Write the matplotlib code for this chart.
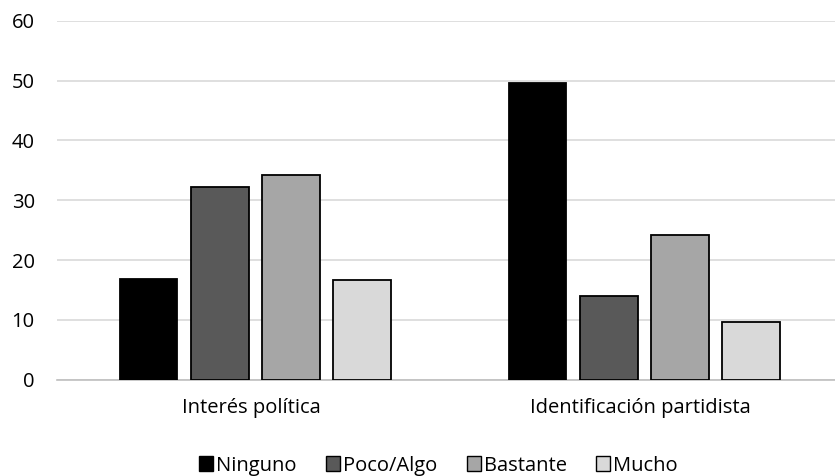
import numpy as np
import matplotlib.pyplot as plt
from matplotlib.patches import Patch

plt.rcParams['font.family'] = ['Open Sans', 'DejaVu Sans']

# data
groups = ['Interés política', 'Identificación partidista']
levels = ['Ninguno', 'Poco/Algo', 'Bastante', 'Mucho']
ninguno = [16.8, 49.6]
poco_algo = [32.2, 13.9]
bastante = [34.3, 24.2]
mucho = [16.6, 9.6]
colors = ['#000000', '#595959', '#A6A6A6', '#D9D9D9']

fig = plt.figure(figsize=(8.35, 4.76), dpi=100)
ax = fig.add_axes([57 / 835, 0.2027, 1 - 57 / 835, 0.7532])

x = np.arange(len(groups))
width = 0.148
step = 0.183
series = [ninguno, poco_algo, bastante, mucho]
for i, (vals, col) in enumerate(zip(series, colors)):
    ax.bar(x + (i - 1.5) * step + 0.01, vals, width, color=col,
           edgecolor='#000000', linewidth=1.3, label=levels[i], zorder=3)

ax.set_xlim(-0.5, 1.5)
ax.set_ylim(0, 60)
ax.set_yticks(range(0, 61, 10))
ax.yaxis.grid(True, color='#D9D9D9', linewidth=1.2, zorder=0)
ax.set_xticks(x)
ax.set_xticklabels(groups)
ax.tick_params(axis='both', length=0, labelsize=14.5, colors='#000000')
ax.tick_params(axis='x', pad=13)
ax.tick_params(axis='y', pad=16)
for side in ['top', 'right', 'left']:
    ax.spines[side].set_visible(False)
ax.spines['bottom'].set_color('#BFBFBF')
ax.spines['bottom'].set_linewidth(1.2)

handles = [Patch(facecolor=c, edgecolor='#000000', linewidth=1.0) for c in colors]
fig.legend(handles, levels, loc='center', bbox_to_anchor=(0.525, 0.022),
           ncol=4, frameon=False, fontsize=14.5, handlelength=0.7,
           handleheight=0.7, handletextpad=0.15, columnspacing=1.45)

fig.savefig('out.png', dpi=100)
